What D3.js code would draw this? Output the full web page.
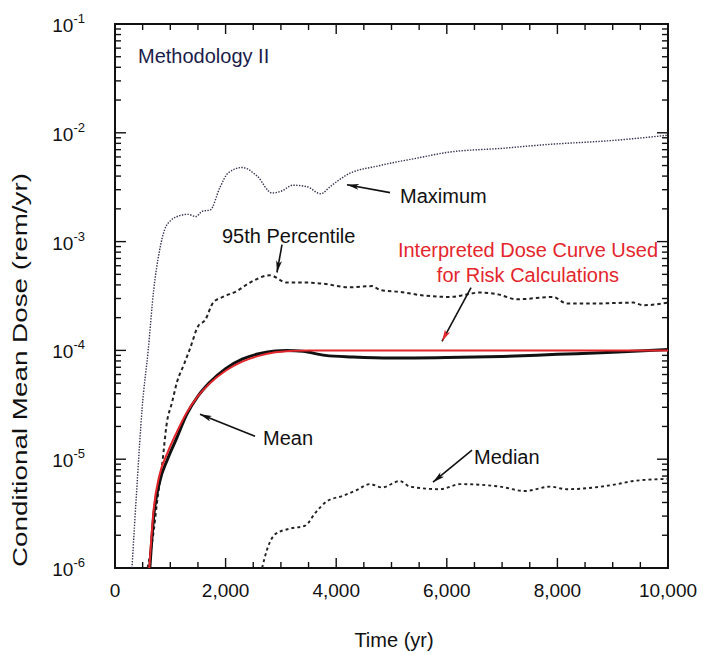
<!DOCTYPE html>
<html><head><meta charset="utf-8">
<script src="https://cdn.jsdelivr.net/npm/d3@7"></script>
<style>
body{margin:0;background:#fff}
text{font-family:"Liberation Sans",Arial,Helvetica,sans-serif}
</style>
</head><body>
<svg id="c" width="709" height="655"></svg>
<script>
// ---- data (time in yr, dose in rem/yr) ----
const timeMax = [307,400,490,600,700,800,900,1000,1100,1320,1465,1575,1720,1900,2045,2300,2570,2840,3000,3220,3470,3720,3890,4190,4790,5500,6000,7000,7810,9000,10000];
const doseMax = [1e-6,6e-6,2.9e-5,1e-4,3.6e-4,8e-4,1.3e-3,1.55e-3,1.68e-3,1.78e-3,1.70e-3,1.9e-3,1.95e-3,3.16e-3,4.27e-3,4.8e-3,4.0e-3,2.8e-3,2.9e-3,3.3e-3,3.2e-3,2.75e-3,3.2e-3,4.1e-3,5.0e-3,5.9e-3,6.6e-3,7.2e-3,7.8e-3,8.5e-3,9.5e-3];

const time95 = [590,700,760,850,940,1030,1120,1250,1360,1500,1630,1775,1950,2200,2440,2800,3110,3500,3760,4250,4650,4790,5150,5570,6060,6600,6900,7270,7920,8170,8700,9370,9550,10000];
const dose95 = [1e-6,2.2e-6,4e-6,8.7e-6,2.2e-5,3.3e-5,5.1e-5,7.5e-5,1.05e-4,1.66e-4,1.9e-4,2.75e-4,3.1e-4,3.5e-4,4.2e-4,4.9e-4,4.2e-4,4.2e-4,4.1e-4,3.8e-4,3.9e-4,3.6e-4,3.45e-4,3.2e-4,3.1e-4,3.4e-4,3.3e-4,2.95e-4,3.1e-4,2.7e-4,2.7e-4,2.75e-4,2.6e-4,2.75e-4];

const timeMean = [630,700,800,950,1100,1300,1500,1700,2000,2300,2600,2900,3100,3400,3800,4300,5000,6000,7000,8000,9000,10000];
const doseMean = [1e-6,3e-6,6e-6,1e-5,1.5e-5,2.6e-5,3.8e-5,5.0e-5,6.8e-5,8.3e-5,9.3e-5,9.9e-5,1.0e-4,9.8e-5,9.0e-5,8.7e-5,8.5e-5,8.6e-5,8.8e-5,9.2e-5,9.6e-5,1.02e-4];

const timeInterp = [620,700,800,950,1100,1300,1500,1700,2000,2300,2600,2900,3200,3500,10000];
const doseInterp = [1e-6,3.5e-6,7e-6,1.15e-5,1.7e-5,2.7e-5,3.8e-5,4.9e-5,6.5e-5,7.9e-5,8.9e-5,9.6e-5,9.9e-5,1e-4,1e-4];

const timeMedian = [2660,2750,2900,3160,3440,3620,3830,4120,4370,4610,4830,5150,5330,5880,6240,6960,7410,7870,8170,9080,9370,10000];
const doseMedian = [1e-6,1.48e-6,2.05e-6,2.3e-6,2.45e-6,3.2e-6,4.1e-6,4.6e-6,5.2e-6,5.9e-6,5.5e-6,6.3e-6,5.6e-6,5.3e-6,5.9e-6,5.6e-6,5.1e-6,5.6e-6,5.3e-6,5.9e-6,6.3e-6,6.6e-6];

const xTickValues = [0,2000,4000,6000,8000,10000];
const xTickLabels = ["0","2,000","4,000","6,000","8,000","10,000"];
const yTickExponents = [-1,-2,-3,-4,-5,-6];

// annotations in data units
const annotations = [
  {text:"Maximum", t:5154, lv:-2.642, color:"#111", from:[4973,-2.55], to:[4195,-2.477]},
  {text:"95th Percentile", t:1935, lv:-3.009, color:"#111", from:[3020,-3.028], to:[2929,-3.284]},
  {text:"Mean", t:2676, lv:-4.872, color:"#111", from:[2532,-4.789], to:[1537,-4.587]},
  {text:"Median", t:6492, lv:-5.046, color:"#111", from:[6456,-4.917], to:[5750,-5.211]}
];

// ---- layout ----
const svg = d3.select("#c");
const L=115, R=668, T=24, B=568;
const x = d3.scaleLinear().domain([0,10000]).range([L,R]);
const y = d3.scaleLog().domain([1e-6,1e-1]).range([B,T]);

const defs = svg.append("defs");
defs.append("clipPath").attr("id","clip")
  .append("rect").attr("x",L).attr("y",T).attr("width",R-L).attr("height",B-T);

function marker(id,color){
  defs.append("marker").attr("id",id).attr("viewBox","0 0 12 6").attr("refX",12).attr("refY",3)
    .attr("markerWidth",12).attr("markerHeight",6).attr("markerUnits","userSpaceOnUse").attr("orient","auto")
    .append("path").attr("d","M0,0 L12,3 L0,6 L3,3 Z").attr("fill",color);
}
marker("ahb","#111");
marker("ahr","#e3262c");

// ticks
const g = svg.append("g");
d3.range(0,10001,500).forEach(v=>{
  const len = v%2000===0?10:6;
  g.append("line").attr("x1",x(v)).attr("x2",x(v)).attr("y1",B).attr("y2",B-len).attr("stroke","#111").attr("stroke-width",1.4);
  g.append("line").attr("x1",x(v)).attr("x2",x(v)).attr("y1",T).attr("y2",T+len).attr("stroke","#111").attr("stroke-width",1.4);
});
for(let e=-6;e<=-1;e++){
  for(let m=1;m<=9;m++){
    const v=m*Math.pow(10,e);
    const len = m===1?11:6;
    g.append("line").attr("x1",L).attr("x2",L+len).attr("y1",y(v)).attr("y2",y(v)).attr("stroke","#111").attr("stroke-width",1.4);
    g.append("line").attr("x1",R).attr("x2",R-len).attr("y1",y(v)).attr("y2",y(v)).attr("stroke","#111").attr("stroke-width",1.4);
    if(e===-1) break;
  }
}

// frame
svg.append("rect").attr("x",L).attr("y",T).attr("width",R-L).attr("height",B-T)
  .attr("fill","none").attr("stroke","#111").attr("stroke-width",2);

// x labels
xTickValues.forEach((v,i)=>{
  svg.append("text").attr("x",x(v)).attr("y",597).attr("text-anchor","middle")
    .attr("font-size",19).attr("fill","#111").text(xTickLabels[i]);
});
// y labels
yTickExponents.forEach(e=>{
  const t = svg.append("text").attr("x",85).attr("y",y(Math.pow(10,e))+8).attr("text-anchor","end")
    .attr("font-size",19).attr("fill","#111");
  t.append("tspan").text("10");
  t.append("tspan").attr("dy",-9).attr("font-size",13).text(String(e));
});

// axis titles
svg.append("text").attr("x",394).attr("y",647).attr("text-anchor","middle")
  .attr("font-size",20).attr("fill","#111").text("Time (yr)");
svg.append("text").attr("transform","translate(27,370) rotate(-90)").attr("text-anchor","middle")
  .attr("font-size",20).attr("fill","#111")
  .attr("textLength",394).attr("lengthAdjust","spacingAndGlyphs")
  .text("Conditional Mean  Dose (rem/yr)");

// lines
const line = d3.line().x(d=>x(d[0])).y(d=>y(d[1])).curve(d3.curveMonotoneX);
const zip=(a,b)=>a.map((v,i)=>[v,b[i]]);
const plot = svg.append("g").attr("clip-path","url(#clip)");

plot.append("path").datum(zip(timeMax,doseMax)).attr("d",line)
  .attr("fill","none").attr("stroke","#33334f").attr("stroke-width",1.4).attr("stroke-dasharray","1.4,1.4");
plot.append("path").datum(zip(time95,dose95)).attr("d",line)
  .attr("fill","none").attr("stroke","#222").attr("stroke-width",2).attr("stroke-dasharray","3.5,3");
plot.append("path").datum(zip(timeMedian,doseMedian)).attr("d",line)
  .attr("fill","none").attr("stroke","#222").attr("stroke-width",1.9).attr("stroke-dasharray","3,3");
plot.append("path").datum(zip(timeMean,doseMean)).attr("d",line)
  .attr("fill","none").attr("stroke","#111").attr("stroke-width",3);
plot.append("path").datum(zip(timeInterp,doseInterp)).attr("d",line)
  .attr("fill","none").attr("stroke","#e3262c").attr("stroke-width",2);

// annotations
const P = (t,lv)=>[x(t), y(Math.pow(10,lv))];
annotations.forEach(a=>{
  const [tx,ty]=P(a.t,a.lv);
  svg.append("text").attr("x",tx).attr("y",ty).attr("font-size",20).attr("fill",a.color).text(a.text);
  const [x1,y1]=P(a.from[0],a.from[1]), [x2,y2]=P(a.to[0],a.to[1]);
  svg.append("line").attr("x1",x1).attr("y1",y1).attr("x2",x2).attr("y2",y2)
    .attr("stroke","#111").attr("stroke-width",1.6).attr("marker-end","url(#ahb)");
});
// interpreted curve label
const [ix,iy]=P(7468,-3.138);
svg.append("text").attr("x",ix).attr("y",iy).attr("text-anchor","middle").attr("font-size",20)
  .attr("fill","#e3262c").text("Interpreted Dose Curve Used");
const [ix2,iy2]=P(7468,-3.367);
svg.append("text").attr("x",ix2).attr("y",iy2).attr("text-anchor","middle").attr("font-size",20)
  .attr("fill","#e3262c").text("for Risk Calculations");
{
  const [x1,y1]=P(6438,-3.422), [x2,y2]=P(5913,-3.917);
  svg.append("line").attr("x1",x1).attr("y1",y1).attr("x2",x2).attr("y2",y2)
    .attr("stroke","#111").attr("stroke-width",1.6).attr("marker-end","url(#ahr)");
}
// methodology label
const [mx,my]=P(416,-1.358);
svg.append("text").attr("x",mx).attr("y",my).attr("font-size",20).attr("fill","#1c1c4a").text("Methodology II");
</script>
</body></html>
